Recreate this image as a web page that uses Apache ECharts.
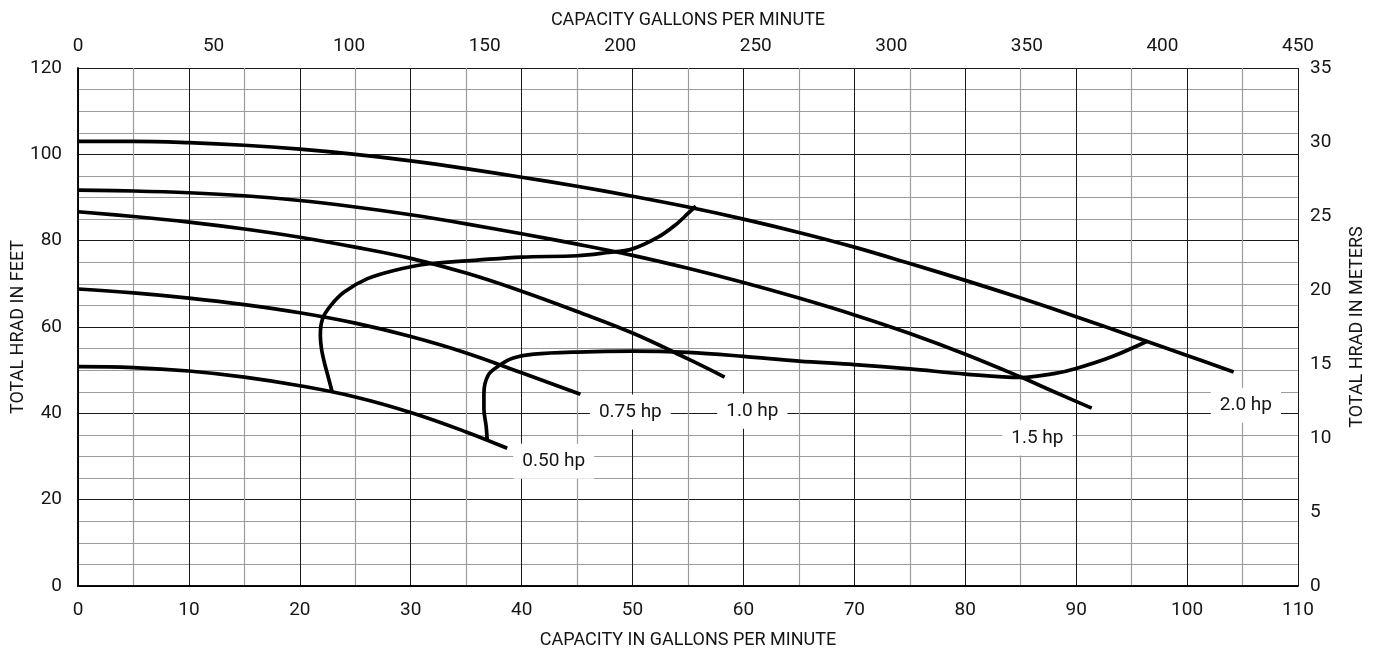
<!DOCTYPE html>
<html><head><meta charset="utf-8">
<script src="https://cdn.jsdelivr.net/npm/echarts@6/dist/echarts.min.js"></script>
<style>html,body{margin:0;padding:0;background:#fff}#chart{width:1383px;height:651px}</style>
</head><body><div id="chart"></div>
<script>
// Pump curves: capacity (GPM) vs total head (ft)
const hp200X = [0, 5, 10, 15, 20, 25, 30, 35, 40, 45, 50, 55, 60, 65, 70, 75, 80, 85, 90, 95, 100, 104.2];
const hp200Y = [103, 103, 102.7, 102.1, 101.2, 100, 98.5, 96.7, 94.7, 92.6, 90.3, 87.8, 85.0, 81.9, 78.5, 74.7, 70.8, 66.7, 62.4, 57.9, 53.4, 49.6];

const hp150X = [0, 5, 10, 15, 20, 25, 30, 35, 40, 45, 50, 55, 60, 65, 70, 75, 80, 85, 88, 91.4];
const hp150Y = [91.7, 91.5, 91.1, 90.4, 89.3, 87.8, 86.0, 83.9, 81.6, 79.2, 76.6, 73.6, 70.3, 66.7, 62.8, 58.5, 53.7, 48.4, 45.0, 41.2];

const hp100X = [0, 5, 10, 15, 20, 25, 30, 35, 40, 45, 50, 55, 58.3];
const hp100Y = [86.7, 85.6, 84.3, 82.7, 80.8, 78.5, 75.9, 72.5, 68.3, 63.6, 58.6, 52.6, 48.4];

const hp075X = [0, 5, 10, 15, 20, 25, 30, 35, 40, 45.3];
const hp075Y = [68.8, 67.9, 66.7, 65.2, 63.3, 60.9, 57.8, 54.0, 49.4, 44.4];

const hp050X = [0, 5, 10, 15, 20, 25, 30, 35, 38.7];
const hp050Y = [50.8, 50.6, 49.8, 48.4, 46.4, 43.8, 40.2, 35.7, 31.9];

// Boundary (efficiency) curves
const eff1X = [22.9, 22.5, 22.2, 21.95, 21.85, 22.05, 22.8, 24, 26.1, 28.5, 31.5, 36, 40, 45, 47.6, 50, 52.3, 53.8, 55, 55.7];
const eff1Y = [45.1, 49, 51.9, 55, 58.1, 61.9, 65, 68.1, 71.2, 73.1, 74.6, 75.5, 76.2, 76.5, 77.2, 78.1, 80.8, 83.5, 86.3, 88.0];

const eff2X = [36.9, 36.8, 36.6, 36.6, 37, 38.05, 39.25, 41.1, 45, 50, 55, 60, 65, 70, 75, 80, 85, 88, 90, 93.2, 96.4];
const eff2Y = [33.6, 37, 41, 44.6, 48.9, 51.2, 52.8, 53.7, 54.2, 54.4, 54.1, 53.2, 52.1, 51.3, 50.3, 49.1, 48.3, 49.2, 50.4, 53.1, 56.7];

// Curve labels (anchor in data units)
const labelNames = ['0.50 hp', '0.75 hp', '1.0 hp', '1.5 hp', '2.0 hp'];
const labelX = [42.9, 49.8, 60.8, 86.5, 105.3];
const labelY = [28.9, 40.3, 40.5, 34.3, 41.9];

const FONT = 'Roboto, "Noto Sans", sans-serif';
const TXT = '#151515';
const pair = (xs, ys) => xs.map((x, i) => [x, ys[i]]);

function curve(name, xs, ys, smooth) {
  return {
    name: name, type: 'line', xAxisIndex: 0, yAxisIndex: 0,
    data: pair(xs, ys), showSymbol: false, smooth: smooth,
    lineStyle: { color: '#000', width: 3.7 }, z: 3, silent: true,
    emphasis: { disabled: true }
  };
}

const chart = echarts.init(document.getElementById('chart'), null, { renderer: 'canvas' });
chart.setOption({
  backgroundColor: '#fff',
  animation: false,
  textStyle: { fontFamily: FONT },
  grid: { left: 78, right: 85, top: 68, bottom: 65, containLabel: false, outerBoundsMode: 'none' },
  xAxis: [
    {
      type: 'value', position: 'bottom', min: 0, max: 110, interval: 10,
      name: 'CAPACITY IN GALLONS PER MINUTE', nameLocation: 'middle', nameGap: 45, nameMoveOverlap: false,
      nameTextStyle: { fontSize: 18, color: TXT, fontFamily: FONT },
      axisLine: { show: true, lineStyle: { color: '#000', width: 1.5 } },
      axisTick: { show: false },
      axisLabel: { fontSize: 19, color: TXT, margin: 15, fontFamily: FONT },
      splitLine: { show: true, lineStyle: { color: '#1a1a1a', width: 1 } },
      minorTick: { show: false, splitNumber: 2 },
      minorSplitLine: { show: true, lineStyle: { color: '#9c9c9c', width: 1.2 } }
    },
    {
      type: 'value', position: 'top', min: 0, max: 450, interval: 50,
      name: 'CAPACITY GALLONS PER MINUTE', nameLocation: 'middle', nameGap: 39, nameMoveOverlap: false,
      nameTextStyle: { fontSize: 18, color: TXT, fontFamily: FONT },
      axisLine: { show: true, lineStyle: { color: '#000', width: 1.5 } },
      axisTick: { show: false },
      axisLabel: { fontSize: 19, color: TXT, margin: 12, fontFamily: FONT },
      splitLine: { show: false }
    }
  ],
  yAxis: [
    {
      type: 'value', position: 'left', min: 0, max: 120, interval: 20,
      name: 'TOTAL HRAD IN FEET', nameLocation: 'middle', nameGap: 51, nameRotate: 90, nameMoveOverlap: false,
      nameTextStyle: { fontSize: 18, color: TXT, fontFamily: FONT },
      axisLine: { show: true, lineStyle: { color: '#000', width: 1.5 } },
      axisTick: { show: false },
      axisLabel: { fontSize: 19, color: TXT, margin: 16, fontFamily: FONT },
      splitLine: { show: true, lineStyle: { color: '#1a1a1a', width: 1 } },
      minorTick: { show: false, splitNumber: 4 },
      minorSplitLine: { show: true, lineStyle: { color: '#9c9c9c', width: 1.2 } }
    },
    {
      type: 'value', position: 'right', min: 0, max: 35, interval: 5,
      name: 'TOTAL HRAD IN METERS', nameLocation: 'middle', nameGap: 50, nameRotate: 90, nameMoveOverlap: false,
      nameTextStyle: { fontSize: 18, color: TXT, fontFamily: FONT },
      axisLine: { show: true, lineStyle: { color: '#000', width: 1.5 } },
      axisTick: { show: false },
      axisLabel: { fontSize: 19, color: TXT, margin: 12, fontFamily: FONT },
      splitLine: { show: false }
    }
  ],
  series: [
    curve('2.0 hp', hp200X, hp200Y, 0.4),
    curve('1.5 hp', hp150X, hp150Y, 0.4),
    curve('1.0 hp', hp100X, hp100Y, 0.4),
    curve('0.75 hp', hp075X, hp075Y, 0.4),
    curve('0.50 hp', hp050X, hp050Y, 0.4),
    curve('eff1', eff1X, eff1Y, 0.35),
    curve('eff2', eff2X, eff2Y, 0.35),
    {
      name: 'labels', type: 'scatter', xAxisIndex: 0, yAxisIndex: 0,
      data: labelNames.map((n, i) => ({ name: n, value: [labelX[i], labelY[i]] })),
      symbolSize: 1, itemStyle: { color: 'rgba(0,0,0,0)', opacity: 1 }, z: 5, silent: true,
      emphasis: { disabled: true },
      label: {
        show: true, position: 'inside', formatter: p => p.name, opacity: 1,
        fontSize: 19, color: TXT, fontFamily: FONT,
        backgroundColor: '#fff', padding: [8, 9]
      }
    }
  ]
});
</script>
</body></html>
